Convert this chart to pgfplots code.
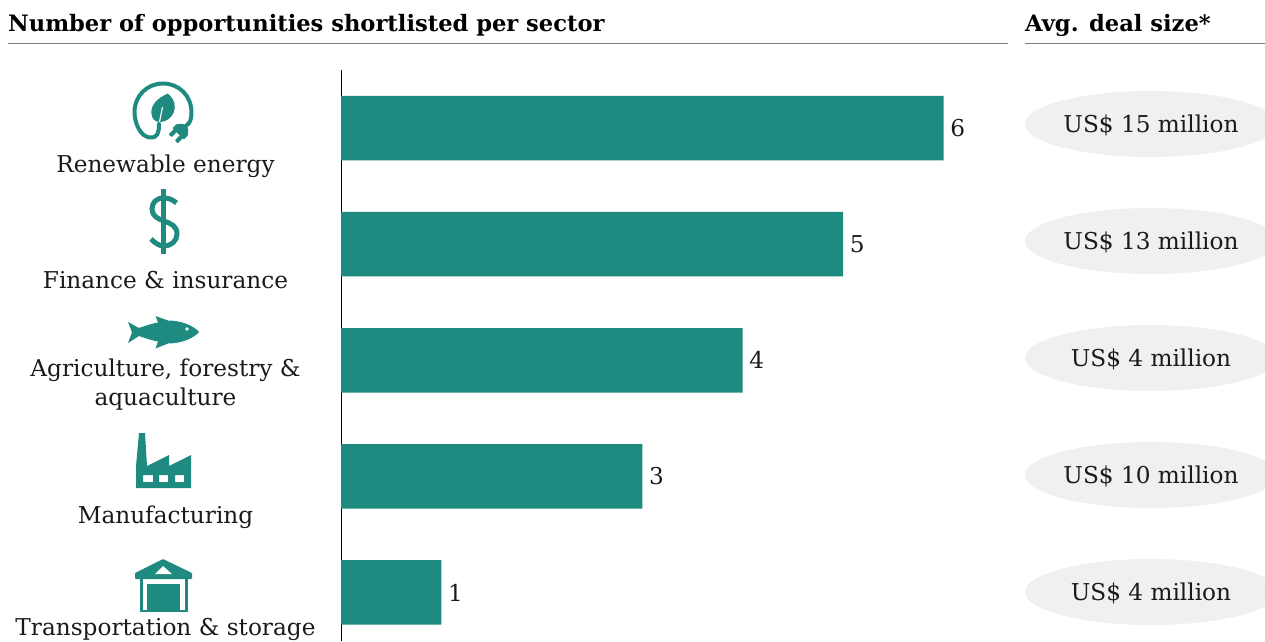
\documentclass[border=0pt]{standalone}
\usepackage{fontspec}
\setmainfont{DejaVu Serif}
\usepackage{pgfplots}
\pgfplotsset{compat=1.18}
\usepackage{pgfplotstable}
\definecolor{teal1}{HTML}{1F8A7F}
\definecolor{pill}{HTML}{F0F0F0}
\definecolor{rulegrey}{HTML}{808080}
\definecolor{ink}{HTML}{1A1A1A}
\pgfplotstableread{
pos value
0 6
1 5
2 4
3 3
4 1
}\sectors
\newcommand{\lbl}{\fontsize{23.2}{27}\selectfont}
\newcommand{\hdr}{\fontsize{22.6}{26}\selectfont\bfseries}
\begin{document}
\begin{tikzpicture}[x=1pt,y=1pt]
\path[use as bounding box,clip] (0,0) rectangle (1265pt,641pt);
\begin{axis}[
  at={(341pt,0pt)}, anchor=south west,
  scale only axis, width=924pt, height=571pt,
  xmin=0, xmax=9.2,
  ymin=-0.5, ymax=4.418, y dir=reverse,
  axis x line=none,
  axis y line*=left,
  axis line style={-,black,line width=1pt},
  ytick=\empty,
  xbar, bar width=64.5pt, bar shift=0pt,
  nodes near coords,
  /pgf/number format/assume math mode=true,
  every node near coord/.append style={anchor=west,inner xsep=6.5pt,text=ink,font=\lbl},
  clip=false,
]
\addplot[draw=none,fill=teal1] table[x=value,y=pos] {\sectors};
\end{axis}
\begin{scope}[x=1pt,y=-1pt,shift={(0,641pt)}]
  % section headers
  \node[anchor=base west,inner sep=0,text=black] at (8,32) {\hdr Number of opportunities shortlisted per sector};
  \node[anchor=base west,inner sep=0,text=black] at (1025,32) {\hdr Avg. deal size*};
  \draw[rulegrey,line width=1pt] (8,43.5) -- (1008,43.5);
  \draw[rulegrey,line width=1pt] (1025,43.5) -- (1265,43.5);
  % sector names
  \foreach \xx/\yy/\tt in {
    165.5/172.5/{Renewable energy},
    165.5/288/{Finance \& insurance},
    165.5/376.5/{Agriculture, forestry \&},
    165.5/405/{aquaculture},
    165.5/523/{Manufacturing},
    165.5/635.5/{Transportation \& storage}}
    \node[anchor=base,inner sep=0,text=ink] at (\xx,\yy) {\lbl \tt};
  % average deal sizes
  \foreach \yy/\tt in {124/US\$ 15 million,241/US\$ 13 million,358/US\$ 4 million,475/US\$ 10 million,592/US\$ 4 million}{
    \fill[pill] (1151,\yy) ellipse [x radius=126,y radius=33];
    \node[text=ink,inner sep=0,anchor=base] at (1151,\yy+8.5) {\lbl \tt};
  }
  % renewable energy icon
  \draw[teal1,line width=4pt,line cap=round]
    (189,123) .. controls (191,120) and (191.5,116) .. (191.5,112)
    .. controls (191.5,96) and (179,83.5) .. (163,83.5)
    .. controls (147,83.5) and (134.5,96) .. (134.5,112)
    .. controls (134.5,124) and (141,137) .. (150,137.5)
    .. controls (158,138) and (159,132) .. (159,124);
  \fill[teal1] (168,93.5) .. controls (157,98) and (150,106) .. (151.5,114)
    .. controls (152,119) and (155,122) .. (160,122)
    .. controls (172,122) and (182,106) .. (168,93.5) -- cycle;
  \draw[white,line width=1.1pt] (159.5,122) -- (162.5,107);
  \begin{scope}[shift={(181,131)},rotate=45]
    \fill[teal1,rounded corners=1pt] (-4,-8) -- (2,-8) -- (7,-3) -- (7,3) -- (2,8) -- (-4,8) -- cycle;
    \fill[teal1,rounded corners=0.8pt] (-11,-6.5) rectangle (-3,-2.2);
    \fill[teal1,rounded corners=0.8pt] (-11,2.2) rectangle (-3,6.5);
    \fill[teal1] (5,-2) rectangle (12,2);
  \end{scope}
  % dollar icon
  \draw[teal1,line width=4.2pt] (163.5,189) -- (163.5,254);
  \draw[teal1,line width=5pt]
    (176.5,203) .. controls (172,199) and (168,198) .. (163.5,198)
    .. controls (156,198) and (152,203) .. (152,209)
    .. controls (152,216) and (158,219) .. (164,221)
    .. controls (171,223.5) and (177,226) .. (177,234)
    .. controls (177,241) and (171,246) .. (164,246)
    .. controls (159,246) and (155,243) .. (151,239);
  % fish icon
  \fill[teal1] (128,322) -- (139,328) .. controls (145,326) and (150,324) .. (158,322.5)
    -- (155.5,316) -- (168,320.5) .. controls (182,320.5) and (194,326) .. (199,332)
    .. controls (194,338) and (182,343.5) .. (168,343.5) -- (155.5,348.5) -- (158,341.5)
    .. controls (150,340) and (145,338) .. (139,336) -- (128,343) -- (132,332.5) -- cycle;
  \fill[white] (187,329) circle (1.8);
  % factory icon
  \fill[teal1,even odd rule] (139,433) -- (145,433) -- (147,466) -- (169,455) -- (169,466)
    -- (191,455) -- (191,488) -- (136,488) -- (136,466) -- cycle
    (143,475) rectangle (153,482) (159,475) rectangle (168,482) (175,475) rectangle (184,482);
  % warehouse icon
  \fill[teal1,rounded corners=0.8pt] (163,559) -- (192,573) -- (192,579) -- (135,579) -- (135,573) -- cycle;
  \fill[white] (163,566) -- (172,574) -- (155,574) -- cycle;
  \fill[teal1] (139.5,579) rectangle (143,612);
  \fill[teal1] (184.5,579) rectangle (188,612);
  \fill[teal1] (139.5,609.5) rectangle (188,612);
  \fill[teal1] (147,584) rectangle (180,612);
\end{scope}
\end{tikzpicture}
\end{document}
